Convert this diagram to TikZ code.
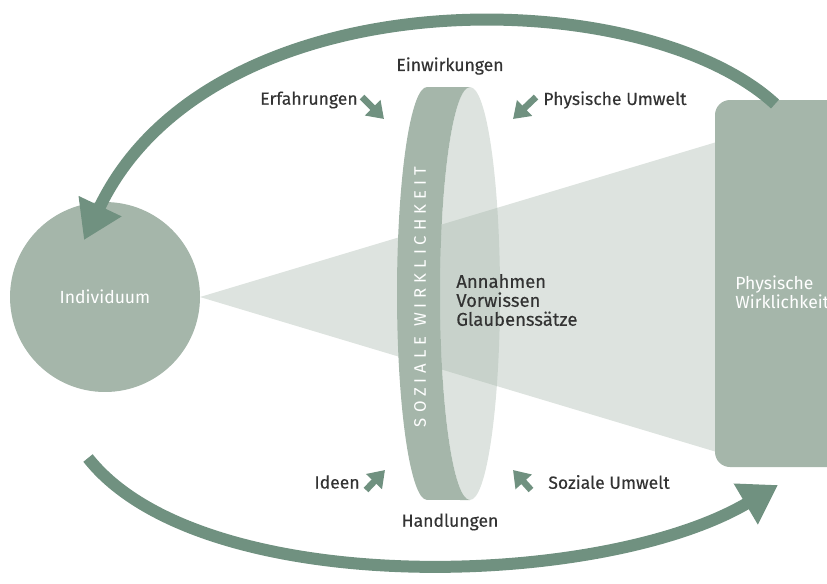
\documentclass[tikz,border=0pt]{standalone}
\usepackage{fontspec}
\setmainfont{Fira Sans}
\usetikzlibrary{arrows.meta}
\definecolor{sage}{RGB}{165,182,170}
\definecolor{leaf}{RGB}{112,145,128}
\definecolor{ink}{RGB}{51,51,51}
\tikzset{
  bigarrow/.style={leaf, line width=0.24cm, -{Triangle[length=0.75cm, width=0.9cm]}},
  pusharrow/.style={leaf, line width=0.13cm, -{Triangle[length=0.32cm, width=0.42cm]}},
  lbl/.style={text=ink, inner sep=0pt, font=\fontsize{10}{10.8}\selectfont\addfontfeatures{FakeBold=0.3}},
  whitelbl/.style={text=white, inner sep=0pt, font=\fontsize{10}{9.8}\selectfont},
}
\begin{document}
\begin{tikzpicture}[x=0.02cm, y=-0.02cm]
\useasboundingbox (0,0) rectangle (827,583);
\clip (0,0) rectangle (827,583);
\coordinate (apex) at (200,297); \coordinate (ct) at (760,129); \coordinate (cb) at (760,465);
\fill[sage, opacity=0.38] (apex) -- (ct) -- (cb) -- cycle;
\fill[sage, rounded corners=0.3cm] (715,100) rectangle (870,467);
\node[whitelbl, anchor=west, align=left] (physw) at (735,292) {Physische\\Wirklichkeit};
\fill[sage] (105,297) circle (1.9cm);
\node[whitelbl] (indiv) at (105,297) {Individuum};
\fill[sage] (427,87) arc[start angle=90, end angle=270, x radius=0.6cm, y radius=4.13cm] -- (470,500)
  arc[start angle=270, end angle=90, x radius=0.6cm, y radius=4.13cm] -- cycle;
\fill[sage, opacity=0.38] (470,293.5) ellipse[x radius=0.6cm, y radius=4.13cm];
\node[text=white, rotate=90, font=\fontsize{9.5}{10}\selectfont\addfontfeatures{LetterSpace=30}] (sozw) at (420,297) {SOZIALE WIRKLICHKEIT};
\node[lbl, anchor=west, align=left, font=\fontsize{10.5}{10.8}\selectfont\addfontfeatures{FakeBold=0.3}] (annahmen) at (456,300) {Annahmen\\Vorwissen\\Glaubenssätze};
\node[lbl] (einw) at (450,66) {Einwirkungen};
\node[lbl] (handl) at (450,522) {Handlungen};
\node[lbl, anchor=east] (erf) at (358,100) {Erfahrungen};
\node[lbl, anchor=west] (physu) at (543,100) {Physische Umwelt};
\node[lbl, anchor=east] (ideen) at (360,482) {Ideen};
\node[lbl, anchor=west] (sozu) at (548,482) {Soziale Umwelt};
\coordinate (E1) at (362,97); \coordinate (E2) at (384,119);
\coordinate (P1) at (536,97); \coordinate (P2) at (513,119);
\coordinate (I1) at (366,490); \coordinate (I2) at (385,470);
\coordinate (S1) at (531,490); \coordinate (S2) at (513,470);
\draw[pusharrow] (E1) -- (E2);
\draw[pusharrow] (P1) -- (P2);
\draw[pusharrow] (I1) -- (I2);
\draw[pusharrow] (S1) -- (S2);
\coordinate (topS) at (775,104); \coordinate (topE) at (84,240);
\coordinate (botS) at (88,458); \coordinate (botE) at (778,485);
\draw[bigarrow] (topS) .. controls (640,-20) and (210,-25) .. (topE);
\draw[bigarrow] (botS) .. controls (200,600) and (600,590) .. (botE);
\end{tikzpicture}
\end{document}
